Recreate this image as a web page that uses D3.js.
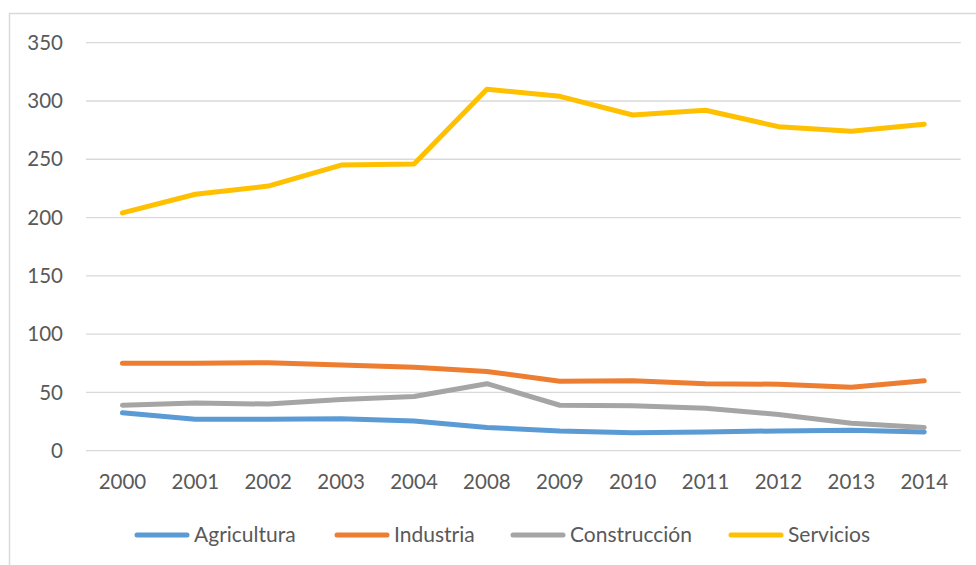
<!DOCTYPE html>
<html><head><meta charset="utf-8">
<script src="https://cdn.jsdelivr.net/npm/d3@7/dist/d3.min.js"></script>
<style>body{margin:0;background:#fff;}svg{display:block;font-family:Lato,"Open Sans",sans-serif;}</style>
</head><body>
<svg id="c" width="976" height="565"></svg>
<script>
const years = ["2000","2001","2002","2003","2004","2008","2009","2010","2011","2012","2013","2014"];
const agricultura = [32.5,27,27,27.5,25.5,20,17,15.5,16,17,17.5,16];
const industria = [75,75,75.5,73.5,71.5,68,59.5,60,57.5,57,54.5,60];
const construccion = [39,41,40,44,46.5,57.5,39,38.5,36.5,31,23.5,20];
const servicios = [204,220,227,245,246,310,304,288,292,278,274,280];
const yTicks = [0,50,100,150,200,250,300,350];
const seriesNames = ["Agricultura","Industria","Construcción","Servicios"];
const seriesValues = [agricultura, industria, construccion, servicios];
const colors = ["#5b9bd5","#ed7d31","#a5a5a5","#ffc000"];

const svg = d3.select("#c");
svg.append("rect").attr("x",9.5).attr("y",13.5).attr("width",1000).attr("height",600)
  .attr("fill","#fff").attr("stroke","#d9d9d9").attr("stroke-width",1.5);

const x = d3.scaleBand().domain(years).range([86,960.7]);
const y = d3.scaleLinear().domain([0,350]).range([450.7,42.7]);

const g = svg.append("g");
g.selectAll("line.grid").data(yTicks).join("line")
  .attr("x1",86).attr("x2",960.7)
  .attr("y1",d=>y(d)).attr("y2",d=>y(d))
  .attr("stroke","#d9d9d9").attr("stroke-width",1.3);

g.selectAll("text.yl").data(yTicks).join("text")
  .attr("x",63).attr("y",d=>y(d)).attr("dy","0.35em")
  .attr("text-anchor","end").attr("font-size",20.5).attr("fill","#595959").text(d=>d);

g.selectAll("text.xl").data(years).join("text")
  .attr("x",d=>x(d)+x.bandwidth()/2).attr("y",489)
  .attr("text-anchor","middle").attr("font-size",20.5).attr("fill","#595959").text(d=>d);

const line = d3.line().x((d,i)=>x(years[i])+x.bandwidth()/2).y(d=>y(d));
seriesValues.forEach((vals,k)=>{
  g.append("path").datum(vals).attr("d",line).attr("fill","none")
    .attr("stroke",colors[k]).attr("stroke-width",5).attr("stroke-linejoin","round").attr("stroke-linecap","round");
});

const legX = [135,335,511,729];
const leg = svg.append("g");
seriesNames.forEach((n,k)=>{
  leg.append("line").attr("x1",legX[k]+2).attr("x2",legX[k]+52).attr("y1",535).attr("y2",535)
    .attr("stroke",colors[k]).attr("stroke-width",5).attr("stroke-linecap","round");
  leg.append("text").attr("x",legX[k]+59).attr("y",535).attr("dy","0.35em")
    .attr("font-size",21).attr("fill","#595959").text(n);
});
</script>
</body></html>
